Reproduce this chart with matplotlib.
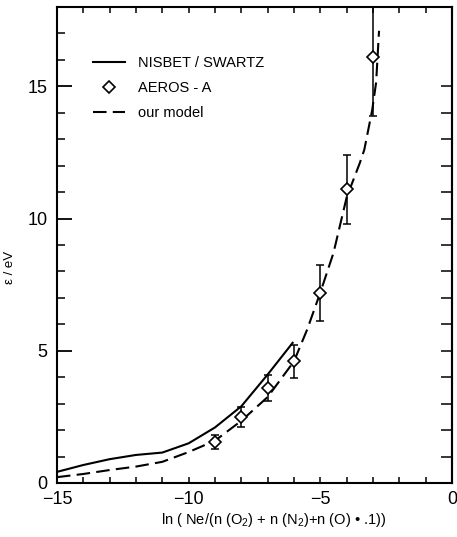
import numpy as np
import matplotlib
matplotlib.use("Agg")
import matplotlib.pyplot as plt
from matplotlib.ticker import MultipleLocator

plt.rcParams["font.family"] = ["Liberation Sans", "DejaVu Sans"]
plt.rcParams["mathtext.fontset"] = "custom"
plt.rcParams["mathtext.rm"] = "Liberation Sans"

# NISBET / SWARTZ curve
nisbet_x = [-15, -14, -13, -12, -11, -10, -9, -8, -7, -6.05]
nisbet_y = [0.42, 0.68, 0.90, 1.06, 1.15, 1.50, 2.10, 2.90, 4.10, 5.30]

# AEROS-A measurements with error ranges
aeros_x  = [-9, -8, -7, -6, -5, -4, -3]
aeros_y  = [1.55, 2.50, 3.60, 4.62, 7.20, 11.10, 16.10]
aeros_lo = [1.30, 2.13, 3.10, 3.98, 6.14, 9.80, 13.86]
aeros_hi = [1.81, 2.86, 4.10, 5.23, 8.26, 12.42, 19.00]

# our model curve
model_x = [-15, -14, -13, -12, -11, -10, -9, -8, -7, -6, -5.5, -5, -4.5,
           -4, -3.5, -3.33, -3.03, -2.88, -2.77]
model_y = [0.22, 0.34, 0.49, 0.62, 0.80, 1.17, 1.60, 2.35, 3.25, 4.60, 5.80,
           7.20, 8.70, 10.80, 12.10, 12.60, 14.10, 15.15, 17.10]

xlim = (-15, 0)
ylim = (0, 18)
xticks = [-15, -10, -5, 0]
yticks = [0, 5, 10, 15]

fig = plt.figure(figsize=(4.57, 5.37), dpi=100)
ax = fig.add_axes([0.1247, 0.1006, 0.8643, 0.8864])

ax.plot(nisbet_x, nisbet_y, color="k", lw=1.5, label="NISBET / SWARTZ")
yerr = [np.array(aeros_y) - np.array(aeros_lo), np.array(aeros_hi) - np.array(aeros_y)]
ax.errorbar(aeros_x, aeros_y, yerr=yerr, fmt="none", ecolor="k",
            elinewidth=1.1, capsize=3, capthick=1.1, zorder=3)
ax.plot(aeros_x, aeros_y, ls="none", marker="D", ms=6, mfc="white",
        mec="k", mew=1.2, zorder=4, label="AEROS - A")
ax.plot(model_x, model_y, color="k", lw=1.5, ls=(0, (6.5, 3)), label="our model")

ax.set_xlim(*xlim)
ax.set_ylim(*ylim)
ax.set_xticks(xticks)
ax.set_yticks(yticks)
ax.xaxis.set_minor_locator(MultipleLocator(1))
ax.yaxis.set_minor_locator(MultipleLocator(1))

for s in ax.spines.values():
    s.set_linewidth(1.5)

ax.tick_params(axis="y", which="major", direction="in", length=10.5, width=1.3,
               labelsize=13, pad=7, left=True, right=False)
ax.tick_params(axis="y", which="minor", direction="in", length=6, width=1.1,
               left=True, right=False)
ax.tick_params(axis="x", which="both", direction="in", length=4.5, width=1.1,
               labelsize=13, pad=6, top=True, bottom=True)

# right side ticks (only up to 15 on the original)
sec = ax.secondary_yaxis("right")
sec.set_yticks(np.arange(1, 16))
sec.tick_params(direction="in", length=8, width=1.1, labelright=False)
sec.spines["right"].set_linewidth(1.5)

ax.set_xlabel("ln ( Ne/(n (O$_2$) + n (N$_2$)+n (O) • .1))", fontsize=10.5)
ax.xaxis.set_label_coords(0.549, -0.058)
ax.set_ylabel("ε / eV", fontsize=9.5)
ax.yaxis.set_label_coords(-0.105, 0.452)

ax.legend(loc="upper left", bbox_to_anchor=(0.058, 0.925), frameon=False,
          fontsize=10.5, handlelength=2.2, handletextpad=0.9, labelspacing=0.75)

fig.savefig("out.png", dpi=100)
